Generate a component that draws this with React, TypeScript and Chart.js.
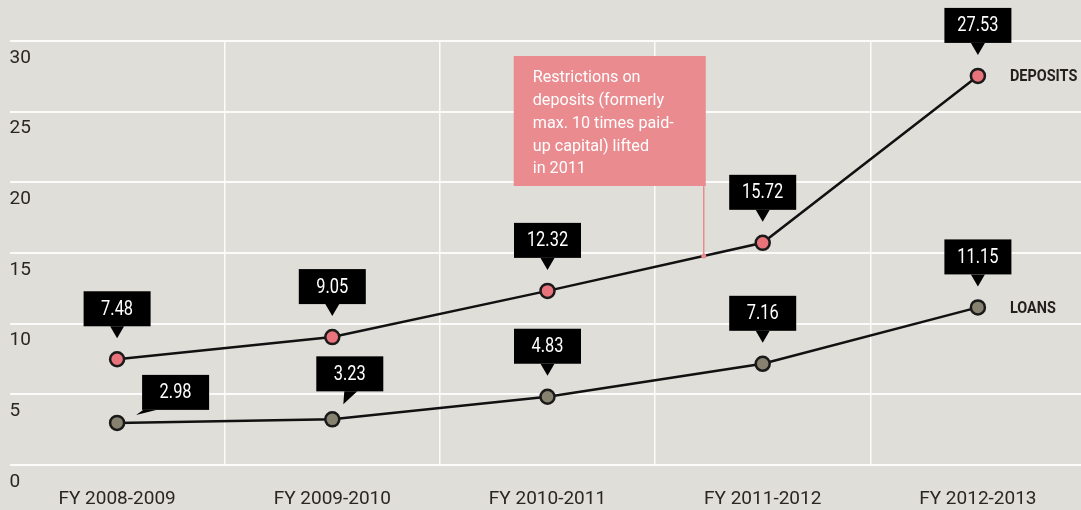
import React, { useEffect, useRef } from 'react';
import { Chart, registerables } from 'chart.js';

Chart.register(...registerables);

const categories = ['FY 2008-2009', 'FY 2009-2010', 'FY 2010-2011', 'FY 2011-2012', 'FY 2012-2013'];
const deposits = [7.48, 9.05, 12.32, 15.72, 27.53];
const loans = [2.98, 3.23, 4.83, 7.16, 11.15];
const seriesNames = ['DEPOSITS', 'LOANS'];
const annotationLines = ['Restrictions on', 'deposits (formerly', 'max. 10 times paid-', 'up capital) lifted', 'in 2011'];
// position of the annotation along the category axis (index units)
const annotationAt = 2.726;

const BG = '#dfded9';
const FONT = 'Roboto, sans-serif';

function condensedText(ctx: CanvasRenderingContext2D, text: string, x: number, y: number, sx: number) {
  ctx.save();
  ctx.translate(x, y);
  ctx.scale(sx, 1);
  ctx.fillText(text, 0, 0);
  ctx.restore();
}

function drawCallout(ctx: CanvasRenderingContext2D, px: number, py: number, text: string, kind: string) {
  const w = 67;
  const h = 35;
  let left: number, top: number, bottom: number;
  ctx.fillStyle = '#000';
  ctx.beginPath();
  if (kind === 'tailLeft') {
    left = px + 25;
    bottom = py - 13;
    top = bottom - h;
    ctx.moveTo(left + 1, bottom);
    ctx.lineTo(left + 14, bottom);
    ctx.lineTo(px + 19, py - 8);
    ctx.closePath();
  } else if (kind === 'tailDown') {
    left = px - 16;
    bottom = py - 28;
    top = bottom - h;
    ctx.moveTo(px + 12, bottom);
    ctx.lineTo(px + 25, bottom);
    ctx.lineTo(px + 11, py - 15);
    ctx.closePath();
  } else {
    left = px - w / 2;
    bottom = py - 33;
    top = bottom - h;
    ctx.moveTo(px - 7, bottom);
    ctx.lineTo(px + 7, bottom);
    ctx.lineTo(px, bottom + 12);
    ctx.closePath();
  }
  ctx.fill();
  ctx.fillRect(left, top, w, h);
  ctx.fillStyle = '#ffffff';
  ctx.font = `20px ${FONT}`;
  ctx.textAlign = 'center';
  ctx.textBaseline = 'middle';
  condensedText(ctx, text, left + w / 2, top + h / 2 + 1, 0.82);
}

const overlayPlugin = {
  id: 'overlay',
  afterDatasetsDraw(chart: any) {
    const ctx: CanvasRenderingContext2D = chart.ctx;
    const xs = chart.scales.x;
    const ys = chart.scales.y;
    ctx.save();

    // annotation box + connector
    const i0 = Math.floor(annotationAt);
    const f = annotationAt - i0;
    const cx = xs.getPixelForValue(i0) + f * (xs.getPixelForValue(i0 + 1) - xs.getPixelForValue(i0));
    const cy = ys.getPixelForValue(deposits[i0] + f * (deposits[i0 + 1] - deposits[i0]));
    const boxRight = cx + 2;
    const boxLeft = boxRight - 192;
    const boxTop = 56;
    const boxBottom = 186;
    ctx.fillStyle = '#e98b8f';
    ctx.fillRect(boxLeft, boxTop, boxRight - boxLeft, boxBottom - boxTop);
    ctx.strokeStyle = '#e98b8f';
    ctx.lineWidth = 1.5;
    ctx.beginPath();
    ctx.moveTo(cx, boxBottom);
    ctx.lineTo(cx, cy);
    ctx.stroke();
    ctx.beginPath();
    ctx.arc(cx, cy, 2.5, 0, Math.PI * 2);
    ctx.fill();
    ctx.fillStyle = '#ffffff';
    ctx.font = `17px ${FONT}`;
    ctx.textAlign = 'left';
    ctx.textBaseline = 'middle';
    annotationLines.forEach((line, i) => {
      condensedText(ctx, line, boxLeft + 19, boxTop + 22 + i * 22.8, 0.95);
    });

    // value callouts
    const metas = [chart.getDatasetMeta(0), chart.getDatasetMeta(1)];
    const sets = [deposits, loans];
    metas.forEach((meta: any, di: number) => {
      meta.data.forEach((pt: any, i: number) => {
        let kind = 'down';
        if (di === 1 && i === 0) kind = 'tailLeft';
        if (di === 1 && i === 1) kind = 'tailDown';
        drawCallout(ctx, pt.x, pt.y, sets[di][i].toFixed(2), kind);
      });
      const last = meta.data[meta.data.length - 1];
      ctx.fillStyle = '#231f1c';
      ctx.font = `bold 17px ${FONT}`;
      ctx.textAlign = 'left';
      ctx.textBaseline = 'middle';
      condensedText(ctx, seriesNames[di], last.x + 32, last.y + 1, 0.85);
    });
    ctx.restore();
  },
};

export default function App() {
  const canvasRef = useRef<HTMLCanvasElement | null>(null);

  useEffect(() => {
    if (!canvasRef.current) return;
    const chart = new Chart(canvasRef.current, {
      type: 'line',
      data: {
        labels: categories,
        datasets: [
          {
            label: seriesNames[0],
            data: deposits,
            borderColor: '#111111',
            borderWidth: 2.5,
            pointRadius: 7,
            pointBorderWidth: 2.5,
            pointBackgroundColor: '#e8737b',
            pointBorderColor: '#1a1a1a',
            tension: 0,
            clip: false as any,
          },
          {
            label: seriesNames[1],
            data: loans,
            borderColor: '#111111',
            borderWidth: 2.5,
            pointRadius: 7,
            pointBorderWidth: 2.5,
            pointBackgroundColor: '#878270',
            pointBorderColor: '#1a1a1a',
            tension: 0,
            clip: false as any,
          },
        ],
      },
      options: {
        responsive: false,
        animation: false,
        layout: { autoPadding: false, padding: { left: 9.5, right: 4.5, top: 41, bottom: 0 } },
        plugins: {
          legend: { display: false },
          tooltip: { enabled: false },
        },
        scales: {
          x: {
            type: 'category',
            offset: true,
            border: { display: false },
            grid: {
              offset: true,
              drawTicks: false,
              lineWidth: 1.5,
              color: (c: any) => (c.index === 0 ? 'rgba(0,0,0,0)' : '#fbfbf9'),
            },
            ticks: {
              padding: 23,
              color: '#2a2622',
              font: { family: FONT, size: 19 },
              maxRotation: 0,
            },
            afterFit: (s: any) => {
              s.height = 45;
              s.paddingLeft = 0;
              s.paddingRight = 0;
            },
          },
          y: {
            min: 0,
            max: 30,
            border: { display: false },
            grid: { drawTicks: false, lineWidth: 2, color: '#fbfbf9' },
            ticks: {
              stepSize: 5,
              mirror: true,
              padding: 0,
              labelOffset: 17,
              color: '#2a2622',
              font: { family: FONT, size: 19 },
            },
            afterFit: (s: any) => {
              s.width = 0;
              s.paddingTop = 0;
              s.paddingBottom = 0;
            },
          },
        },
      },
      plugins: [overlayPlugin],
    });
    return () => chart.destroy();
  }, []);

  return (
    <div
      style={{
        position: 'fixed',
        left: 0,
        top: 0,
        width: 1081,
        height: 510,
        overflow: 'hidden',
        background: BG,
      }}
    >
      <canvas ref={canvasRef} width={1090} height={510} style={{ width: 1090, height: 510, display: 'block' }} />
    </div>
  );
}
